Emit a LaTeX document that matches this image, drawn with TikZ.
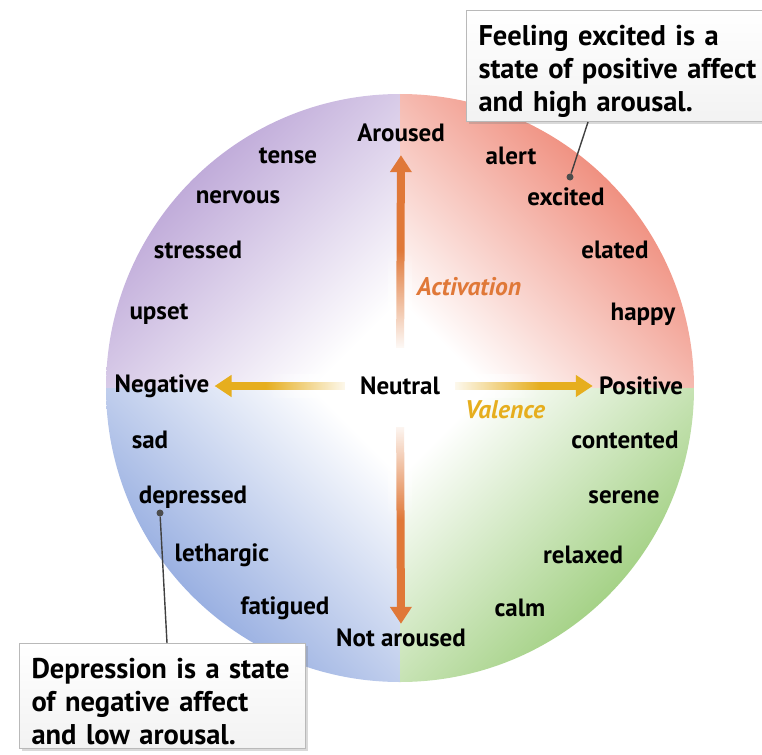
\documentclass[tikz,border=0pt]{standalone}
\usepackage{fontspec}
\setmainfont{PT Sans}
\usetikzlibrary{arrows.meta,fadings,shadows}

\definecolor{moodpurple}{RGB}{176,150,208}
\definecolor{moodred}{RGB}{236,116,96}
\definecolor{moodblue}{RGB}{128,156,218}
\definecolor{moodgreen}{RGB}{142,198,104}
\definecolor{actorange}{RGB}{224,120,56}
\definecolor{valgold}{RGB}{230,174,30}

\tikzfading[name=clearup, bottom color=transparent!0, top color=transparent!100]
\tikzfading[name=cleardown, top color=transparent!0, bottom color=transparent!100]
\tikzfading[name=clearleft, right color=transparent!0, left color=transparent!100]
\tikzfading[name=clearright, left color=transparent!0, right color=transparent!100]

\begin{document}
\begin{tikzpicture}[x=1pt, y=-1pt,
  word/.style={font=\bfseries\fontsize{25}{28}\selectfont, inner sep=1pt},
  axisname/.style={font=\bfseries\itshape\fontsize{25.5}{28}\selectfont, inner sep=1pt},
  callout/.style={draw=gray!55, line width=1pt, top color=white, bottom color=gray!10, align=left, inner xsep=12pt, inner ysep=4pt, font=\bfseries\fontsize{28.5}{33}\selectfont, execute at begin node={\rule{0pt}{31pt}}, drop shadow={shadow xshift=2pt, shadow yshift=-2pt, opacity=0.3}},
  dotmark/.style={circle, fill=gray!60!black, inner sep=0pt, minimum size=7pt},
  dotline/.style={draw=gray!50!black, line width=1.4pt},
  actarrow/.style={draw=actorange, line width=8pt, -{Triangle[width=21pt,length=17pt]}},
  valarrow/.style={draw=valgold, line width=8pt, -{Triangle[width=21pt,length=17pt]}}
]
\clip (0,0) rectangle (762,754);

% Quadrants
\begin{scope}
  \clip (400,388) circle (294);
  \shade[top color=moodpurple, bottom color=white, shading angle=45] (106,94) rectangle (400,388);
  \shade[top color=moodred, bottom color=white, shading angle=-45] (400,94) rectangle (694,388);
  \shade[top color=moodblue, bottom color=white, shading angle=135] (106,388) rectangle (400,682);
  \shade[top color=moodgreen, bottom color=white, shading angle=225] (400,388) rectangle (694,682);
\end{scope}

% Axis labels
\node (neutral) [word] at (400,386) {Neutral};
\node (aroused) [word] at (401,133) {Aroused};
\node (notaroused) [word] at (401,638) {Not aroused};
\node (negative) [word] at (162,386) {Negative};
\node (positive) [word] at (641,386) {Positive};
\node (activation) [axisname, text=actorange] at (469,287) {Activation};
\node (valence) [axisname, text=valgold] at (505,410) {Valence};

% Moods
\node (tense) [word] at (288,156) {tense};
\node (nervous) [word] at (238,197) {nervous};
\node (stressed) [word] at (198,250) {stressed};
\node (upset) [word] at (159,314) {upset};
\node (sad) [word] at (150,440) {sad};
\node (depressed) [word] at (193,497) {depressed};
\node (lethargic) [word] at (222,555) {lethargic};
\node (fatigued) [word] at (285,608) {fatigued};
\node (calm) [word] at (520,608) {calm};
\node (relaxed) [word] at (583,555) {relaxed};
\node (serene) [word] at (624,497) {serene};
\node (contented) [word] at (625,440) {contented};
\node (happy) [word] at (643,314) {happy};
\node (elated) [word] at (615,250) {elated};
\node (excited) [word] at (566,197) {excited};
\node (alert) [word] at (511,156) {alert};

% Arrows
\draw [actarrow, shorten <=28pt, shorten >=12pt] (neutral.north) -- (aroused.south);
\draw [actarrow, shorten <=31pt, shorten >=4pt] (neutral.south) -- (notaroused.north);
\draw [valarrow, shorten <=14pt, shorten >=4pt] (neutral.west) -- (negative.east);
\draw [valarrow, shorten <=14pt, shorten >=5pt] (neutral.east) -- (positive.west);
\fill [white, path fading=clearup] (388,352) rectangle (412,250);
\fill [white, path fading=cleardown] (388,420) rectangle (412,520);
\fill [white, path fading=clearleft] (352,374) rectangle (265,398);
\fill [white, path fading=clearright] (448,374) rectangle (540,398);

% Callouts
\node (excbox) [callout, anchor=north west, text width=296pt] at (466,10) {Feeling excited is a\\state of positive affect\\and high arousal.};
\node (depbox) [callout, anchor=north west, text width=262pt] at (19,643) {Depression is a state\\of negative affect\\and low arousal.};
\node (excdot) [dotmark] at (570,177) {};
\node (depdot) [dotmark] at (160,513) {};
\draw [dotline] (excdot) -- ([xshift=122pt]excbox.south west);
\draw [dotline] (depdot) -- ([xshift=148pt]depbox.north west);

\end{tikzpicture}
\end{document}
